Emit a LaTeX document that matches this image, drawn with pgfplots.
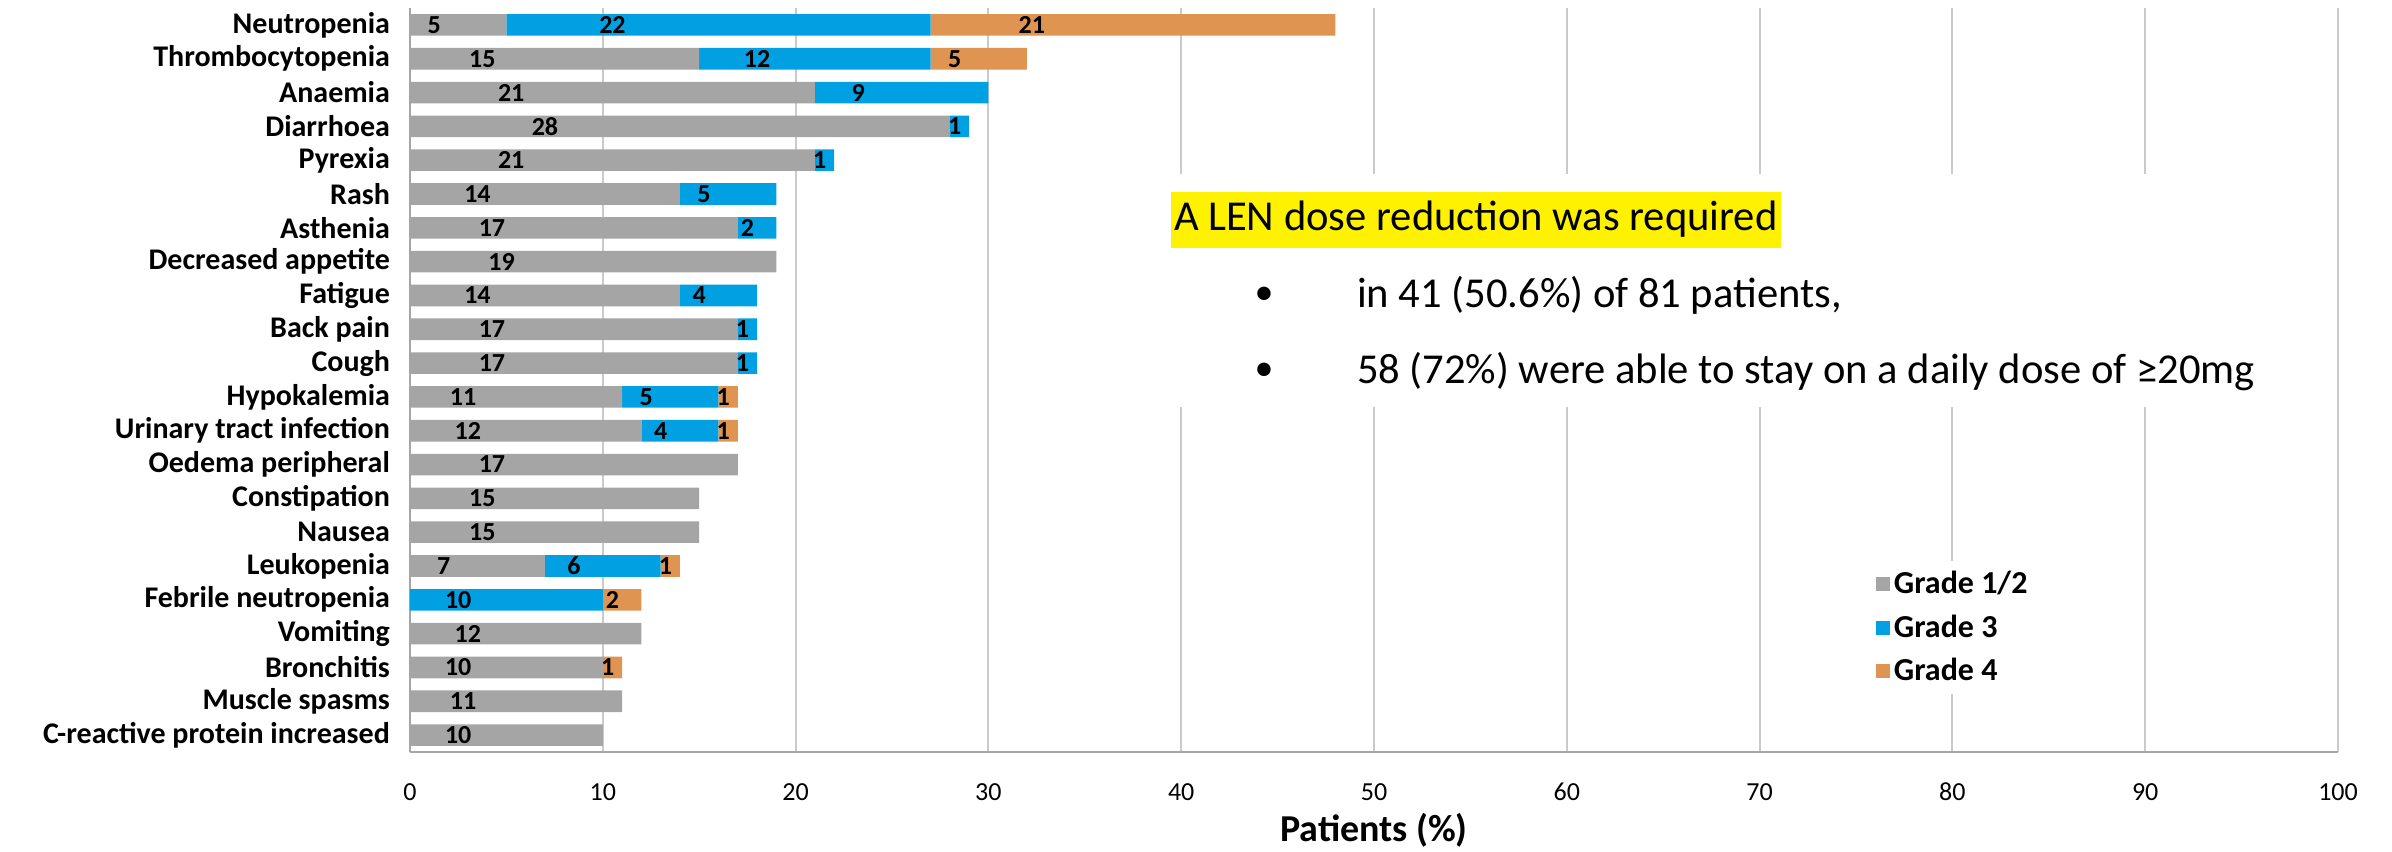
\documentclass[border=0pt]{standalone}
\usepackage{fontspec}
\setmainfont{Carlito}
\usepackage{pgfplots}
\pgfplotsset{compat=1.18}
\usepackage{pgfplotstable}
\definecolor{gGrey}{HTML}{A5A5A5}
\definecolor{gBlue}{HTML}{00A0E3}
\definecolor{gOrange}{HTML}{E09452}
\definecolor{gridc}{HTML}{CACACA}
\definecolor{axc}{HTML}{A6A6A6}

\pgfplotstableread{
y g12 g3 g4
0 5 22 21
1 15 12 5
2 21 9 0
3 28 1 0
4 21 1 0
5 14 5 0
6 17 2 0
7 19 0 0
8 14 4 0
9 17 1 0
10 17 1 0
11 11 5 1
12 12 4 1
13 17 0 0
14 15 0 0
15 15 0 0
16 7 6 1
17 0 10 2
18 12 0 0
19 10 0 1
20 11 0 0
21 10 0 0
}\data

\begin{document}
\begin{tikzpicture}
\begin{axis}[
  scale only axis, width=964pt, height=372pt,
  xbar stacked, bar width=10.8pt,
  xmin=0, xmax=100, ymin=-0.5, ymax=21.5, y dir=reverse,
  xtick={0,10,...,100}, ytick={0,...,21},
  yticklabels={Neutropenia, Thrombocytopenia, Anaemia, Diarrhoea, Pyrexia, Rash, Asthenia, Decreased appetite, Fatigue, Back pain, Cough, Hypokalemia, Urinary tract infection, Oedema peripheral, Constipation, Nausea, Leukopenia, Febrile neutropenia, Vomiting, Bronchitis, Muscle spasms, C-reactive protein increased},
  xmajorgrids, grid style={gridc, line width=1pt},
  axis lines*=left, axis line style={axc, line width=1.3pt},
  major tick length=0pt,
  /pgf/number format/assume math mode=true,
  xticklabel style={font=\fontsize{13}{15}\selectfont, anchor=center, yshift=-20pt},
  yticklabel style={font=\fontsize{15}{17}\selectfont\bfseries, anchor=east, xshift=-6.5pt},
  xlabel={\textbf{Patients (\%)}},
  xlabel style={font=\fontsize{19}{21}\selectfont, at={(axis description cs:0.5,0)}, anchor=center, yshift=-39pt},
  point meta=x,
  visualization depends on=rawx \as \rawx,
  nodes near coords={\ifdim\rawx pt>0pt \pgfmathprintnumber{\rawx}\fi},
  every node near coord/.append style={font=\fontsize{13}{15}\selectfont\bfseries, black, anchor=center, shift={(axis direction cs:-\rawx/4,0)}},
  legend style={at={(axis cs:75.7,15.85)}, anchor=north west, draw=none, fill=white, font=\fontsize{16}{18}\selectfont\bfseries, row sep=5pt, inner sep=3pt},
  legend cell align=left,
  legend image code/.code={\draw[#1, draw=none] (0pt,-3.5pt) rectangle (7pt,3.5pt);},
]
\addplot[fill=gGrey, draw=none] table[x=g12, y=y] {\data};
\addplot[fill=gBlue, draw=none] table[x=g3, y=y] {\data};
\addplot[fill=gOrange, draw=none] table[x=g4, y=y] {\data};
\legend{Grade 1/2, Grade 3, Grade 4}
\coordinate (W1) at (axis cs:39,4.4);
\coordinate (W2) at (axis cs:97,11.3);
\coordinate (T0) at (axis cs:39.45,5.78);
\coordinate (B1) at (axis cs:44.3,8.0);
\coordinate (L1) at (axis cs:49.1,8.0);
\coordinate (B2) at (axis cs:44.3,10.25);
\coordinate (L2) at (axis cs:49.1,10.25);
\end{axis}
\fill[white] (W1) rectangle (W2);
\node[fill=yellow, anchor=west, inner xsep=1.5pt, inner ysep=1.5pt, font=\fontsize{21.3}{25}\selectfont] at (T0) {\strut A LEN dose reduction was required};
\node[anchor=center, font=\fontsize{19}{24}\selectfont] at (B1) {•};
\node[anchor=west, inner sep=0pt, font=\fontsize{21.3}{25}\selectfont] at (L1) {in 41 (50.6\%) of 81 patients,};
\node[anchor=center, font=\fontsize{19}{24}\selectfont] at (B2) {•};
\node[anchor=west, inner sep=0pt, font=\fontsize{21.3}{25}\selectfont] at (L2) {58 (72\%) were able to stay on a daily dose of ≥20mg};
\pgfresetboundingbox
\useasboundingbox (-205pt,-49.5pt) rectangle (991pt,376pt);
\end{tikzpicture}
\end{document}
